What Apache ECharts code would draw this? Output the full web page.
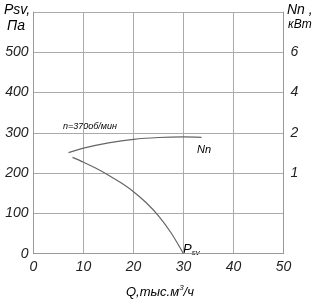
<!DOCTYPE html>
<html><head><meta charset="utf-8">
<script src="https://cdn.jsdelivr.net/npm/echarts@6/dist/echarts.min.js"></script>
<style>html,body{margin:0;padding:0;background:#fff}#c{width:312px;height:301px}</style>
</head><body><div id="c"></div>
<script>
var xTicks = [0, 10, 20, 30, 40, 50];
var leftTicks = [0, 100, 200, 300, 400, 500];
// right axis (kW) labels placed at left-axis values
var rightTickPos = [200, 300, 400, 500];
var rightTickLabels = ['1', '2', '4', '6'];
// Psv curve: Q (thousand m3/h), Psv (Pa)
var psvQ = [7.8, 10, 12.5, 15, 17.5, 20, 22.5, 25, 27.5, 30];
var psvP = [239, 227, 212, 195, 176, 154, 127, 94, 52, 0];
// Nn curve: Q, Nn (kW)
var nnQ = [7, 10, 15, 20, 25, 30, 33.6];
var nnK = [1.51, 1.62, 1.75, 1.84, 1.885, 1.90, 1.89];

function kwToAxis(k) {
  // piecewise mapping using right-axis ticks
  var kv = [1, 2, 4, 6], pv = [200, 300, 400, 500];
  for (var i = 0; i < kv.length - 1; i++) {
    if (k <= kv[i + 1] || i === kv.length - 2) {
      return pv[i] + (k - kv[i]) / (kv[i + 1] - kv[i]) * (pv[i + 1] - pv[i]);
    }
  }
}
var psvData = psvQ.map(function (q, i) { return [q, psvP[i]]; });
var nnData = nnQ.map(function (q, i) { return [q, kwToAxis(nnK[i])]; });

var lab = {fontFamily: 'Liberation Sans', fontStyle: 'italic', color: '#222'};
var chart = echarts.init(document.getElementById('c'), null, {renderer: 'canvas'});
chart.setOption({
  animation: false,
  grid: {left: 33.5, right: 28.5, top: 12, bottom: 47.3},
  xAxis: {
    type: 'value', min: 0, max: 50, interval: 10,
    axisLine: {show: true, lineStyle: {color: '#999', width: 1}},
    axisTick: {show: false},
    splitLine: {show: true, lineStyle: {color: '#aaa', width: 1}},
    axisLabel: Object.assign({fontSize: 14, margin: 6}, lab)
  },
  yAxis: [{
    type: 'value', min: 0, max: 600, interval: 100,
    axisLine: {show: true, lineStyle: {color: '#999', width: 1}},
    axisTick: {show: false},
    splitLine: {show: true, lineStyle: {color: '#aaa', width: 1}},
    axisLabel: Object.assign({fontSize: 14, margin: 5, formatter: function (v) {
      return leftTicks.indexOf(v) >= 0 ? String(v) : '';
    }}, lab)
  }, {
    type: 'value', min: 0, max: 600, interval: 100, position: 'right',
    axisLine: {show: true, lineStyle: {color: '#999', width: 1}},
    axisTick: {show: false},
    splitLine: {show: false},
    axisLabel: Object.assign({fontSize: 14, margin: 7, formatter: function (v) {
      var i = rightTickPos.indexOf(v);
      return i >= 0 ? rightTickLabels[i] : '';
    }}, lab)
  }],
  series: [{
    type: 'line', data: psvData, smooth: 0.3, symbol: 'none',
    lineStyle: {color: '#666', width: 1.2}
  }, {
    type: 'line', data: nnData, smooth: 0.3, symbol: 'none',
    lineStyle: {color: '#666', width: 1.2}
  }],
  graphic: [
    {type: 'text', left: 4, top: 3, style: Object.assign({text: 'Psv,', fontSize: 14}, lab)},
    {type: 'text', left: 7, top: 19, style: Object.assign({text: 'Па', fontSize: 14}, lab)},
    {type: 'text', left: 287, top: 3, style: Object.assign({text: 'Nn ,', fontSize: 14}, lab)},
    {type: 'text', left: 288, top: 19, style: Object.assign({text: 'кВт', fontSize: 12}, lab)},
    {type: 'text', left: 63, top: 122, style: Object.assign({text: 'n=370об/мин', fontSize: 9}, lab)},
    {type: 'text', left: 197, top: 144, style: Object.assign({text: 'Nn', fontSize: 11}, lab)},
    {type: 'text', left: 183, top: 243, style: Object.assign({
      text: '{p|P}{s|sv}', rich: {
        p: Object.assign({fontSize: 13}, lab),
        s: Object.assign({fontSize: 8, padding: [6, 0, 0, 0]}, lab)
      }}, lab)},
    {type: 'text', left: 126, top: 284, style: Object.assign({
      text: '{a|Q,тыс.м}{b|3}{a|/ч}', rich: {
        a: Object.assign({fontSize: 13}, lab),
        b: Object.assign({fontSize: 8, padding: [0, 0, 8, 0]}, lab)
      }}, lab)}
  ]
});
</script></body></html>
